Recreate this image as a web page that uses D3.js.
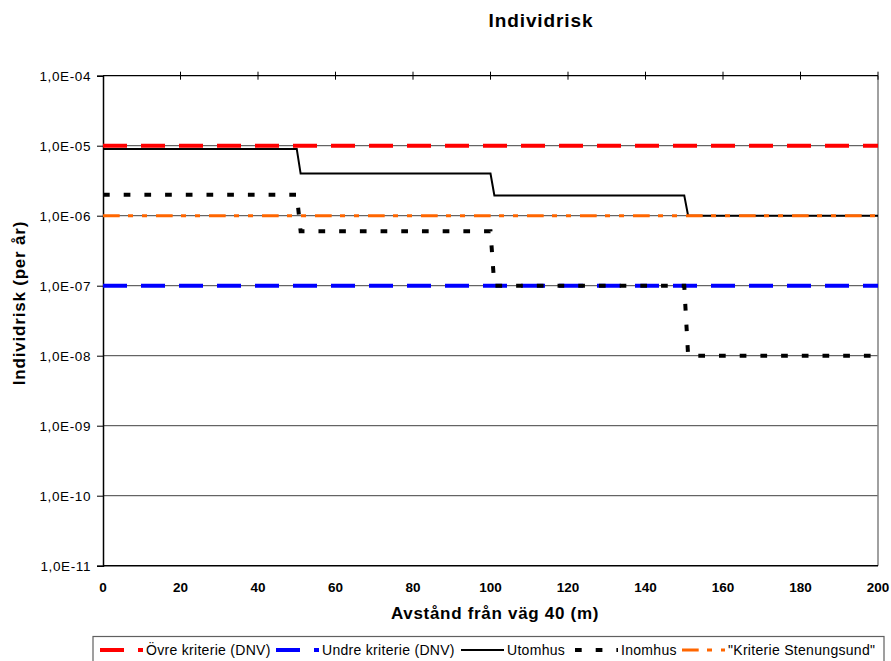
<!DOCTYPE html>
<html><head><meta charset="utf-8">
<script src="https://cdn.jsdelivr.net/npm/d3@7/dist/d3.min.js"></script>
<style>
body{margin:0;background:#fff;}
text{font-family:"Liberation Sans",Arial,sans-serif;}
</style></head>
<body><svg id="c" width="891" height="661"></svg>
<script>
// ---- data ----
const title = "Individrisk";
const xTitle = "Avstånd från väg 40 (m)";
const yTitle = "Individrisk (per år)";
const xTicks = [0,20,40,60,80,100,120,140,160,180,200];
const yTicks = [1e-11,1e-10,1e-9,1e-8,1e-7,1e-6,1e-5,1e-4];
const yTickLabels = ["1,0E-11","1,0E-10","1,0E-09","1,0E-08","1,0E-07","1,0E-06","1,0E-05","1,0E-04"];
const seriesNames = ["Övre kriterie (DNV)","Undre kriterie (DNV)","Utomhus","Inomhus","\"Kriterie Stenungsund\""];
const distance = [0,50,51,100,101,150,151,200];
const ovre = [1e-5,1e-5,1e-5,1e-5,1e-5,1e-5,1e-5,1e-5];
const undre = [1e-7,1e-7,1e-7,1e-7,1e-7,1e-7,1e-7,1e-7];
const utomhus = [9e-6,9e-6,4e-6,4e-6,1.95e-6,1.95e-6,1e-6,1e-6];
const inomhus = [2e-6,2e-6,6e-7,6e-7,1e-7,1e-7,1e-8,1e-8];
const stenungsund = [1e-6,1e-6,1e-6,1e-6,1e-6,1e-6,1e-6,1e-6];

const styles = [
  {color:"#ff0000", w:4, dash:"24,14"},
  {color:"#0000ff", w:4, dash:"24,14"},
  {color:"#000000", w:2, dash:null},
  {color:"#000000", w:4, dash:"6.7,14"},
  {color:"#ff6600", w:3, dash:"16.7,8.3,5,9,5,9"}
];
const allSeries = [ovre, undre, utomhus, inomhus, stenungsund];

const svg = d3.select("#c");
const L=103, R=878, T=75.7, B=565.7;
const x = d3.scaleLinear().domain([0,200]).range([L,R]);
const y = d3.scaleLog().domain([1e-11,1e-4]).range([B,T]);

// gridlines
svg.append("g").selectAll("line").data(yTicks.slice(1,-1)).join("line")
  .attr("x1",L).attr("x2",R).attr("y1",d=>y(d)).attr("y2",d=>y(d))
  .attr("stroke","#404040").attr("stroke-width",1);

// right border
svg.append("line").attr("x1",R).attr("x2",R).attr("y1",T).attr("y2",B)
  .attr("stroke","#808080").attr("stroke-width",1.5);

// top line with ticks (crossing)
svg.append("line").attr("x1",L).attr("x2",R).attr("y1",T).attr("y2",T)
  .attr("stroke","#000").attr("stroke-width",1.3);
svg.append("g").selectAll("line").data(xTicks.slice(1)).join("line")
  .attr("x1",d=>x(d)).attr("x2",d=>x(d)).attr("y1",T-4).attr("y2",T+4)
  .attr("stroke","#000").attr("stroke-width",1);

// bottom axis
svg.append("line").attr("x1",L).attr("x2",R).attr("y1",B).attr("y2",B)
  .attr("stroke","#000").attr("stroke-width",1.5);
svg.append("g").selectAll("text").data(xTicks).join("text")
  .attr("x",d=>x(d)).attr("y",B+26).attr("text-anchor","middle")
  .attr("font-size","13.5px").attr("font-weight","bold").text(d=>d);

// left axis
const yAxis = d3.axisLeft(y).tickValues(yTicks).tickSize(6)
  .tickFormat((d,i)=>yTickLabels[i]);
const ga = svg.append("g").attr("transform",`translate(${L},0)`).call(yAxis);
ga.select(".domain").attr("stroke","#000").attr("stroke-width",1.5);
ga.selectAll(".tick line").attr("stroke","#000");
ga.selectAll(".tick text").attr("x",-12).attr("font-size","13.5px")
  .attr("font-family","Liberation Sans, Arial, sans-serif").attr("fill","#000")
  .attr("letter-spacing","0.6px");

// series
const line = d3.line().x(d=>x(d[0])).y(d=>y(d[1]));
allSeries.forEach((s,i)=>{
  const st = styles[i];
  const p = svg.append("path").datum(distance.map((d,j)=>[d,s[j]]))
    .attr("d",line).attr("fill","none").attr("stroke",st.color)
    .attr("stroke-width",st.w).attr("stroke-linejoin","miter");
  if(st.dash) p.attr("stroke-dasharray",st.dash);
});

// titles
svg.append("text").attr("x",541).attr("y",27).attr("text-anchor","middle")
  .attr("font-size","19px").attr("font-weight","bold").attr("letter-spacing","0.9px").text(title);
svg.append("text").attr("x",495).attr("y",619).attr("text-anchor","middle")
  .attr("font-size","17px").attr("font-weight","bold").attr("letter-spacing","0.7px").text(xTitle);
svg.append("text").attr("transform","translate(25,303) rotate(-90)").attr("text-anchor","middle")
  .attr("font-size","17px").attr("font-weight","bold").attr("letter-spacing","0.8px").text(yTitle);

// legend
svg.append("rect").attr("x",93).attr("y",636.5).attr("width",791).attr("height",30)
  .attr("fill","#fff").attr("stroke","#606060").attr("stroke-width",1.2);
const legX = [100,276,461,575,682];
seriesNames.forEach((n,i)=>{
  const st = styles[i];
  const l = svg.append("line").attr("x1",legX[i]).attr("x2",legX[i]+43)
    .attr("y1",650).attr("y2",650).attr("stroke",st.color).attr("stroke-width",st.w);
  if(st.dash) l.attr("stroke-dasharray",st.dash);
  svg.append("text").attr("x",legX[i]+46).attr("y",655).attr("font-size","14px")
    .attr("letter-spacing","0.3px").text(n);
});
</script></body></html>
